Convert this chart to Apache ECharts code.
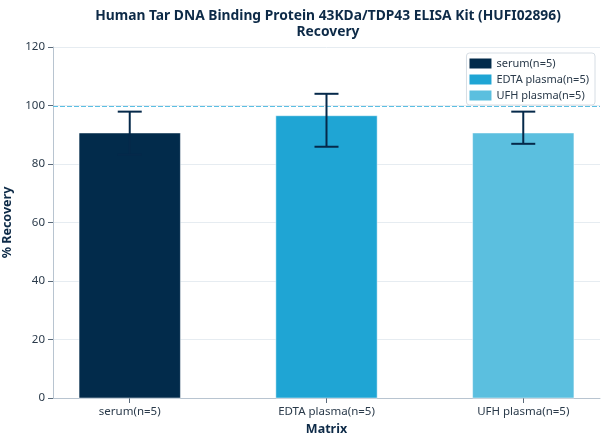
<!DOCTYPE html>
<html>
<head>
<meta charset="utf-8">
<script src="https://cdn.jsdelivr.net/npm/echarts@6/dist/echarts.min.js"></script>
<style>
  html, body { margin: 0; padding: 0; background: #fff; }
  #chart { width: 608px; height: 444px; }
</style>
</head>
<body>
<div id="chart"></div>
<script>
(function (){
    // 数据
    var categories = ['serum(n=5)', 'EDTA plasma(n=5)', 'UFH plasma(n=5)'];
    var recovery = [90.6, 96.5, 90.6];
    var errLow = [83.2, 85.9, 86.9];
    var errHigh = [97.9, 104.0, 97.9];
    var colors = ['#022b4b', '#1fa5d4', '#5bbfdf'];
    var yTicks = [0, 20, 40, 60, 80, 100, 120];
    var refLine = 100;

    var positions = categories.map(function (c, i) { return i; });
    var barFrac = 0.515;

    var myChart = echarts.init(document.getElementById('chart'));
    var option;

    // 柱子用 custom 画，避免 value 轴被 bar 自动扩展
    var barSeries = categories.map(function (name, i) {
        return {
            name: name,
            type: 'custom',
            z: 2,
            itemStyle: { color: colors[i] },
            data: [[positions[i], recovery[i]]],
            renderItem: function (params, api) {
                var x = api.value(0);
                var half = barFrac / 2;
                var p1 = api.coord([x - half, api.value(1)]);
                var p2 = api.coord([x + half, 0]);
                return {
                    type: 'rect',
                    shape: { x: p1[0], y: p1[1], width: p2[0] - p1[0], height: p2[1] - p1[1] },
                    style: { fill: colors[i], stroke: 'rgba(255,255,255,0.6)', lineWidth: 0.8 }
                };
            }
        };
    });

    var errData = categories.map(function (c, i) { return [positions[i], errLow[i], errHigh[i]]; });

    option = {
        animation: false,
        textStyle: { fontFamily: 'Noto Sans' },
        title: {
            text: 'Human Tar DNA Binding Protein 43KDa/TDP43 ELISA Kit (HUFI02896)\nRecovery',
            left: 323,
            textAlign: 'center',
            top: 3,
            textStyle: { fontSize: 13.8, fontWeight: 'bold', color: '#0d2a47', lineHeight: 16 }
        },
        legend: {
            data: categories,
            orient: 'vertical',
            right: 13,
            top: 53,
            itemWidth: 22,
            itemHeight: 10,
            itemGap: 5,
            icon: 'rect',
            padding: [5, 6, 4, 3],
            borderColor: '#d6dde4',
            borderWidth: 1,
            borderRadius: 3,
            backgroundColor: '#fff',
            textStyle: { fontSize: 11, color: '#2a3a4a' }
        },
        grid: { left: 53, right: 8, top: 47, bottom: 46, outerBoundsMode: 'none', containLabel: false },
        xAxis: {
            type: 'value',
            min: -0.39,
            max: 2.39,
            name: 'Matrix',
            nameLocation: 'middle',
            nameGap: 25,
            nameTextStyle: { fontSize: 12.5, fontWeight: 'bold', color: '#0d2a47' },
            splitLine: { show: false },
            axisLine: { show: true, onZero: false, lineStyle: { color: '#b8c4d0' } },
            axisTick: { show: true, customValues: positions, lineStyle: { color: '#5a6a7a' } },
            axisLabel: {
                customValues: positions,
                fontSize: 11.5,
                color: '#2a3a4a',
                margin: 8,
                formatter: function (v) { return categories[Math.round(v)]; }
            }
        },
        yAxis: {
            type: 'value',
            min: yTicks[0],
            max: yTicks[yTicks.length - 1],
            interval: 20,
            name: '% Recovery',
            nameLocation: 'middle',
            nameGap: 27,
            nameTextStyle: { fontSize: 12.5, fontWeight: 'bold', color: '#0d2a47' },
            axisLine: { show: true, onZero: false, lineStyle: { color: '#b8c4d0' } },
            axisTick: { show: true, lineStyle: { color: '#5a6a7a' } },
            axisLabel: { fontSize: 11.5, color: '#2a3a4a' },
            splitLine: { lineStyle: { color: '#e6ecf1' } }
        },
        series: [{
            // 100% 参考线
            type: 'custom',
            name: 'ref',
            z: 5,
            itemStyle: { color: '#5bbfe3' },
            data: [[0, refLine]],
            renderItem: function (params, api) {
                var cs = params.coordSys;
                var y = Math.round(api.coord([0, api.value(1)])[1]) + 0.5;
                return {
                    type: 'line',
                    shape: { x1: cs.x, y1: y, x2: cs.x + cs.width, y2: y },
                    style: { stroke: '#5bbfe3', fill: null, lineWidth: 1, lineDash: [5, 2] }
                };
            }
        }].concat(barSeries).concat([{
            type: 'custom',
            name: 'error',
            z: 10,
            data: errData,
            renderItem: function (params, api) {
                var x = api.value(0);
                var lo = api.coord([x, api.value(1)]);
                var hi = api.coord([x, api.value(2)]);
                var hw = 12;
                var style = { stroke: '#05294a', lineWidth: 2 };
                return {
                    type: 'group',
                    children: [
                        { type: 'line', shape: { x1: hi[0], y1: hi[1], x2: lo[0], y2: lo[1] }, style: style },
                        { type: 'line', shape: { x1: hi[0] - hw, y1: hi[1], x2: hi[0] + hw, y2: hi[1] }, style: style },
                        { type: 'line', shape: { x1: lo[0] - hw, y1: lo[1], x2: lo[0] + hw, y2: lo[1] }, style: style }
                    ]
                };
            }
        }])
    };
    myChart.setOption(option);
})();
</script>
</body>
</html>
